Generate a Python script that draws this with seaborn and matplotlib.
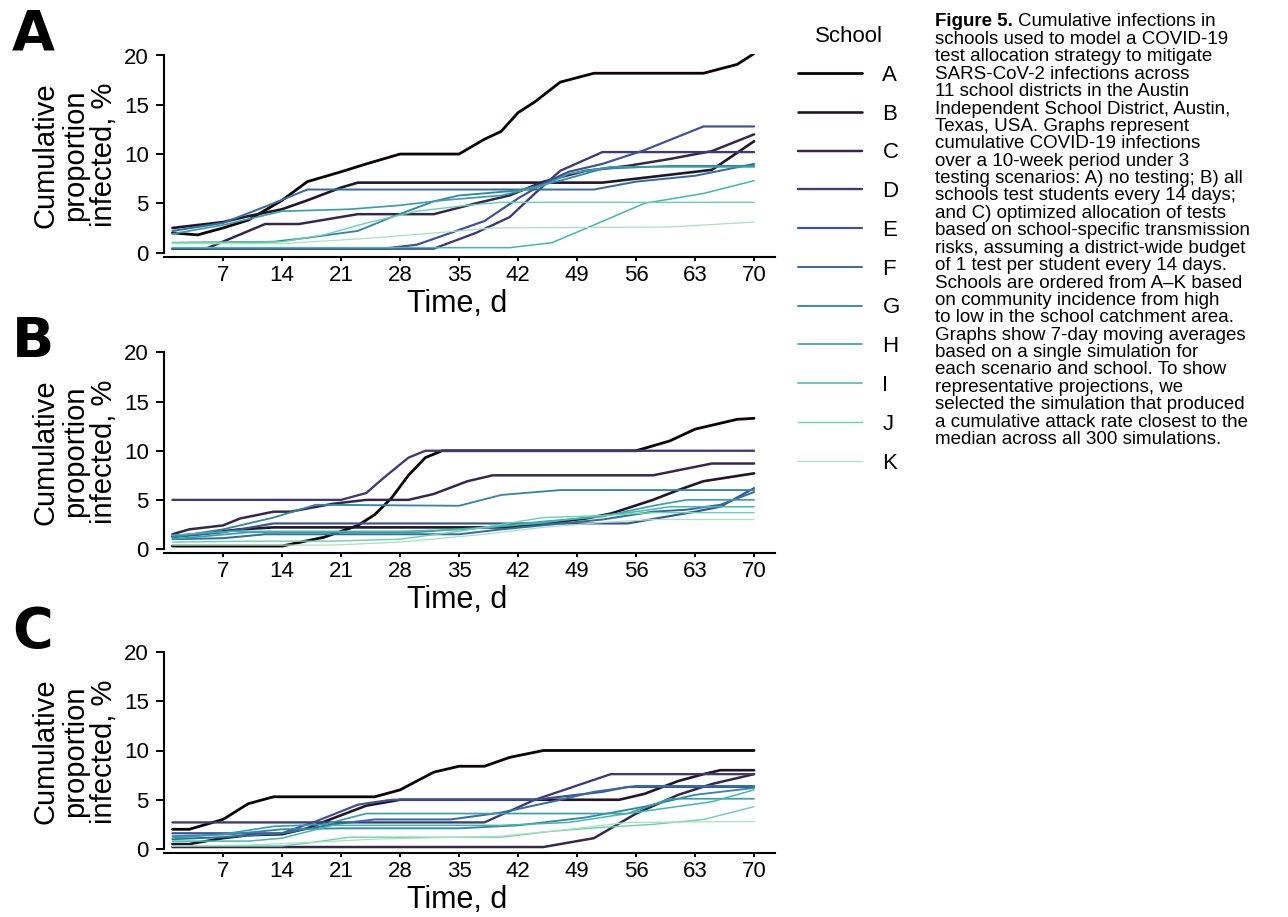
import numpy as np
import pandas as pd
import matplotlib
matplotlib.use("Agg")
import matplotlib.pyplot as plt
import seaborn as sns

# ---------------- data ----------------
schools = ["A", "B", "C", "D", "E", "F", "G", "H", "I", "J", "K"]
scenario_letters = ["A", "B", "C"]
day_ticks = [7, 14, 21, 28, 35, 42, 49, 56, 63, 70]
pct_ticks = [0, 5, 10, 15, 20]

# (day, cumulative % infected) vertices
no_testing = {
    "A": [(1, 2.0), (4, 1.8), (7, 2.5), (10, 3.3), (14, 5.3), (17, 7.2), (21, 8.2), (24, 9.0), (28, 10.0),
          (35, 10.0), (38, 11.5), (40, 12.3), (42, 14.2), (44, 15.3), (47, 17.3), (51, 18.2), (64, 18.2),
          (68, 19.1), (70, 20.2)],
    "B": [(1, 2.5), (4, 2.8), (7, 3.1), (10, 3.7), (14, 4.4), (17, 5.3), (21, 6.6), (23, 7.1), (52, 7.1),
          (57, 7.6), (63, 8.2), (65, 8.4), (70, 11.3)],
    "C": [(1, 0.4), (5, 0.4), (12, 2.9), (16, 2.9), (23, 3.9), (32, 3.9), (37, 5.0), (41, 5.8), (45, 7.2),
          (50, 8.3), (55, 8.8), (60, 9.5), (65, 10.3), (70, 12.0)],
    "D": [(1, 0.4), (32, 0.4), (37, 2.0), (41, 3.6), (44, 6.0), (47, 8.3), (52, 10.2), (70, 10.2)],
    "E": [(1, 0.4), (26, 0.4), (30, 0.8), (34, 2.0), (38, 3.2), (42, 5.5), (45, 7.0), (48, 8.2), (52, 9.0),
          (57, 10.4), (64, 12.8), (70, 12.8)],
    "F": [(1, 2.2), (7, 3.0), (13, 5.0), (17, 6.4), (42, 6.4), (51, 6.4), (56, 7.2), (63, 7.8), (70, 9.0)],
    "G": [(1, 1.0), (13, 1.1), (17, 1.5), (23, 2.2), (27, 3.6), (32, 5.2), (35, 5.8), (42, 6.3), (47, 7.3),
          (52, 8.5), (60, 8.8), (70, 8.8)],
    "H": [(1, 1.9), (7, 2.8), (14, 4.2), (22, 4.4), (28, 4.8), (33, 5.3), (40, 5.8), (45, 6.8), (48, 8.0),
          (53, 8.7), (70, 8.7)],
    "I": [(1, 0.5), (41, 0.5), (46, 1.0), (51, 2.8), (57, 5.0), (64, 6.0), (70, 7.3)],
    "J": [(1, 1.0), (14, 1.1), (19, 1.8), (24, 3.0), (30, 4.2), (36, 4.8), (40, 5.1), (70, 5.1)],
    "K": [(1, 0.9), (14, 0.9), (25, 1.5), (35, 2.2), (39, 2.5), (60, 2.6), (70, 3.1)],
}

every_14_days = {
    "A": [(1, 0.3), (14, 0.3), (19, 1.2), (23, 2.4), (25, 3.5), (27, 5.2), (29, 7.5), (31, 9.3), (33, 10.0),
          (56, 10.0), (60, 11.0), (63, 12.2), (68, 13.2), (70, 13.3)],
    "B": [(1, 1.3), (5, 1.6), (9, 2.0), (13, 2.2), (41, 2.2), (45, 2.6), (50, 3.1), (53, 3.6), (58, 5.0),
          (61, 6.0), (64, 6.9), (70, 7.7)],
    "C": [(1, 1.5), (3, 2.0), (7, 2.4), (9, 3.1), (13, 3.8), (15, 3.8), (20, 4.6), (24, 5.0), (29, 5.0),
          (32, 5.6), (36, 6.9), (39, 7.5), (58, 7.5), (65, 8.7), (70, 8.7)],
    "D": [(1, 5.0), (21, 5.0), (24, 5.7), (26, 7.2), (29, 9.3), (31, 10.0), (70, 10.0)],
    "E": [(1, 1.2), (7, 1.7), (13, 2.6), (55, 2.6), (59, 3.2), (63, 3.8), (66, 4.3), (70, 6.2)],
    "F": [(1, 1.0), (7, 1.1), (12, 1.5), (35, 1.5), (40, 2.0), (46, 2.5), (52, 3.0), (58, 3.8), (62, 4.0),
          (66, 4.5), (70, 5.8)],
    "G": [(1, 1.2), (7, 2.0), (13, 3.2), (18, 4.5), (35, 4.4), (40, 5.5), (47, 6.0), (70, 6.0)],
    "H": [(1, 1.0), (10, 1.7), (30, 1.7), (38, 2.2), (45, 2.8), (52, 3.3), (58, 4.4), (62, 5.0), (70, 5.0)],
    "I": [(1, 1.4), (8, 1.8), (28, 1.8), (36, 2.0), (44, 2.6), (50, 3.2), (56, 3.8), (60, 4.3), (70, 4.3)],
    "J": [(1, 0.7), (10, 0.8), (20, 0.8), (28, 1.0), (35, 1.8), (40, 2.5), (45, 3.2), (52, 3.4), (58, 3.7),
          (70, 3.7)],
    "K": [(1, 0.4), (20, 0.4), (28, 0.7), (38, 1.5), (45, 2.2), (52, 2.7), (58, 3.0), (70, 3.0)],
}

optimized = {
    "A": [(1, 2.0), (3, 2.0), (7, 3.0), (10, 4.6), (13, 5.3), (25, 5.3), (28, 6.0), (32, 7.8), (35, 8.4),
          (38, 8.4), (41, 9.3), (45, 10.0), (70, 10.0)],
    "B": [(1, 0.5), (3, 0.5), (7, 1.1), (10, 1.4), (14, 1.5), (17, 2.1), (20, 3.1), (24, 4.4), (28, 5.0),
          (54, 5.0), (57, 5.6), (61, 6.9), (64, 7.6), (66, 8.0), (70, 8.0)],
    "C": [(1, 0.2), (45, 0.2), (51, 1.1), (56, 3.6), (61, 5.5), (65, 6.6), (70, 7.6)],
    "D": [(1, 2.7), (38, 2.7), (44, 5.0), (53, 7.6), (70, 7.6)],
    "E": [(1, 1.6), (14, 1.6), (18, 2.8), (23, 4.5), (27, 5.0), (44, 5.0), (52, 5.8), (55, 6.3), (70, 6.3)],
    "F": [(1, 1.0), (7, 1.2), (14, 1.6), (20, 2.5), (25, 3.0), (34, 3.0), (40, 3.7), (46, 4.8), (51, 5.8),
          (56, 6.4), (70, 6.4)],
    "G": [(1, 1.3), (8, 1.5), (14, 2.0), (21, 2.1), (35, 2.1), (42, 2.4), (50, 3.2), (57, 4.3), (63, 5.5),
          (70, 6.2)],
    "H": [(1, 1.1), (7, 1.5), (13, 2.3), (19, 2.5), (24, 3.6), (55, 3.6), (60, 5.1), (70, 5.1)],
    "I": [(1, 0.8), (10, 0.8), (14, 1.1), (20, 2.4), (40, 2.4), (48, 2.7), (55, 3.6), (60, 4.2), (65, 4.8),
          (70, 6.0)],
    "J": [(1, 0.3), (14, 0.3), (17, 0.6), (22, 1.2), (40, 1.2), (46, 1.8), (52, 2.2), (58, 2.5), (64, 3.0),
          (70, 4.3)],
    "K": [(1, 0.3), (10, 0.4), (18, 0.7), (25, 1.0), (40, 1.3), (48, 2.0), (55, 2.7), (70, 2.8)],
}

caption_lines = [
    "Cumulative infections in",
    "schools used to model a COVID-19",
    "test allocation strategy to mitigate",
    "SARS-CoV-2 infections across",
    "11 school districts in the Austin",
    "Independent School District, Austin,",
    "Texas, USA. Graphs represent",
    "cumulative COVID-19 infections",
    "over a 10-week period under 3",
    "testing scenarios: A) no testing; B) all",
    "schools test students every 14 days;",
    "and C) optimized allocation of tests",
    "based on school-specific transmission",
    "risks, assuming a district-wide budget",
    "of 1 test per student every 14 days.",
    "Schools are ordered from A\u2013K based",
    "on community incidence from high",
    "to low in the school catchment area.",
    "Graphs show 7-day moving averages",
    "based on a single simulation for",
    "each scenario and school. To show",
    "representative projections, we",
    "selected the simulation that produced",
    "a cumulative attack rate closest to the",
    "median across all 300 simulations.",
]

# ---------------- long-form table ----------------
rows = []
for scen, series in zip(scenario_letters, [no_testing, every_14_days, optimized]):
    for school in schools:
        for d, v in series[school]:
            rows.append({"scenario": scen, "School": school, "day": d, "pct": v})
df = pd.DataFrame(rows)

# ---------------- style ----------------
sns.set_theme(style="ticks")
plt.rcParams["font.family"] = ["Liberation Sans", "DejaVu Sans"]
plt.rcParams["text.color"] = "black"
plt.rcParams["axes.labelcolor"] = "black"

W, H = 1288, 917
fig = plt.figure(figsize=(W / 100, H / 100), dpi=100)
fig.patch.set_facecolor("white")

cmap = sns.color_palette("mako", as_cmap=True)
pal = {s: cmap(p) for s, p in zip(schools, np.linspace(0.0, 0.9, len(schools)))}
lw = {s: w for s, w in zip(schools, np.linspace(2.0, 0.9, len(schools)))}

left_px = 164
unit_x = 8.43
xmax = 72.5
panel_rows = [(252.6, 55.5), (549.0, 352.5), (849.0, 652.0)]
letter_y = [35, 342, 632]

axes = []
for i, (scen, (y0, y20)) in enumerate(zip(scenario_letters, panel_rows)):
    upx = (y0 - y20) / 20.0
    ylo, yhi = -0.4, 20.2
    bottom_px = y0 - ylo * upx
    top_px = y20 - (yhi - 20) * upx
    ax = fig.add_axes([left_px / W, 1 - bottom_px / H, xmax * unit_x / W, (bottom_px - top_px) / H])
    sub = df[df["scenario"] == scen]
    sns.lineplot(data=sub, x="day", y="pct", hue="School", size="School",
                 hue_order=schools, size_order=schools, palette=pal, sizes=lw,
                 estimator=None, legend=(i == 0), ax=ax)
    ax.set_xlim(0, xmax)
    ax.set_ylim(ylo, yhi)
    ax.set_xticks(day_ticks)
    ax.set_yticks(pct_ticks)
    ax.tick_params(axis="both", labelsize=16, width=1.4, color="black", labelcolor="black")
    ax.tick_params(axis="y", length=6, pad=5)
    ax.tick_params(axis="x", length=3, pad=3)
    sns.despine(ax=ax)
    for sp in ["left", "bottom"]:
        ax.spines[sp].set_linewidth(1.5)
        ax.spines[sp].set_color("black")
    ax.spines["left"].set_bounds(0, 20)
    ax.set_xlabel("Time, d", fontsize=22)
    ax.set_ylabel("Cumulative\nproportion\ninfected, %", fontsize=21, linespacing=1.05)
    ax.yaxis.set_label_coords(-0.075, 0.5)
    ax.xaxis.set_label_coords(0.48, -0.158)
    ax.xaxis.label.set_va("top")
    ax.set_facecolor("white")
    fig.text(12 / W, 1 - letter_y[i] / H, scen, fontsize=40, fontweight="heavy", color="black",
             va="center", ha="left", family=["DejaVu Sans"])
    axes.append(ax)

sns.move_legend(axes[0], "upper left", bbox_to_anchor=(778 / W, 1 - 6 / H),
                bbox_transform=fig.transFigure, frameon=False, title="School",
                fontsize=16, title_fontsize=16, handlelength=2.9, labelspacing=0.8,
                handletextpad=0.9)

# caption
cx = 935 / W
fs = 13.5
fig.canvas.draw()
renderer = fig.canvas.get_renderer()
bold = fig.text(cx, 1 - 22 / H, "Figure 5.", fontsize=fs, fontweight="bold", va="center", ha="left")
bb = bold.get_window_extent(renderer=renderer)
fig.text((bb.x1 + 5) / W, 1 - 22 / H, caption_lines[0], fontsize=fs, va="center", ha="left")
for k, line in enumerate(caption_lines[1:], start=1):
    fig.text(cx, 1 - (22 + 17.4 * k) / H, line, fontsize=fs, va="center", ha="left")

fig.savefig("out.png", dpi=100, facecolor="white")
